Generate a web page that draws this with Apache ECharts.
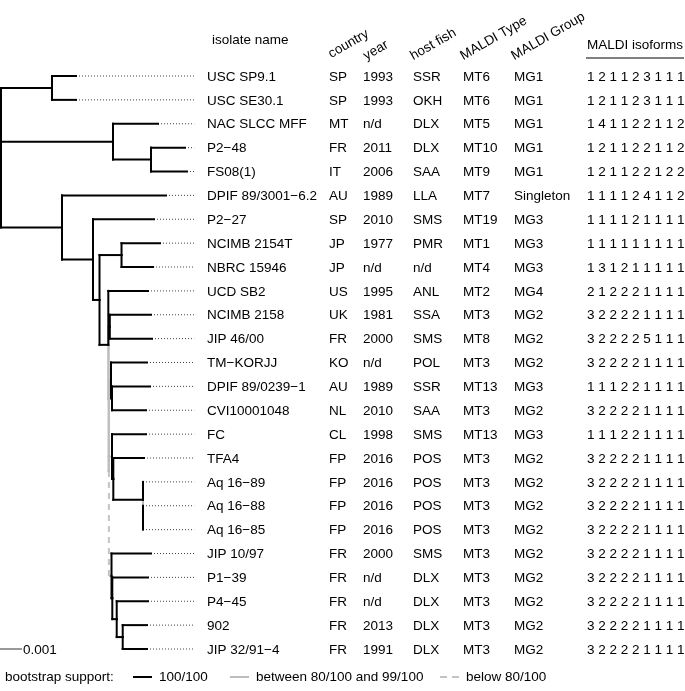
<!DOCTYPE html>
<html><head><meta charset="utf-8">
<script src="https://cdn.jsdelivr.net/npm/echarts@6/dist/echarts.min.js"></script>
<style>html,body{margin:0;padding:0;background:#fff}#c{width:685px;height:691px}</style>
</head><body><div id="c"></div>
<script>
// ---------------- DATA ----------------
const isolateNames = ["USC SP9.1","USC SE30.1","NAC SLCC MFF","P2\u221248","FS08(1)","DPIF 89/3001\u22126.2","P2\u221227","NCIMB 2154T","NBRC 15946","UCD SB2","NCIMB 2158","JIP 46/00","TM\u2212KORJJ","DPIF 89/0239\u22121","CVI10001048","FC","TFA4","Aq 16\u221289","Aq 16\u221288","Aq 16\u221285","JIP 10/97","P1\u221239","P4\u221245","902","JIP 32/91\u22124"];
const countries = ["SP","SP","MT","FR","IT","AU","SP","JP","JP","US","UK","FR","KO","AU","NL","CL","FP","FP","FP","FP","FR","FR","FR","FR","FR"];
const years = ["1993","1993","n/d","2011","2006","1989","2010","1977","n/d","1995","1981","2000","n/d","1989","2010","1998","2016","2016","2016","2016","2000","n/d","n/d","2013","1991"];
const hostFish = ["SSR","OKH","DLX","DLX","SAA","LLA","SMS","PMR","n/d","ANL","SSA","SMS","POL","SSR","SAA","SMS","POS","POS","POS","POS","SMS","DLX","DLX","DLX","DLX"];
const maldiTypes = ["MT6","MT6","MT5","MT10","MT9","MT7","MT19","MT1","MT4","MT2","MT3","MT8","MT3","MT13","MT3","MT13","MT3","MT3","MT3","MT3","MT3","MT3","MT3","MT3","MT3"];
const maldiGroups = ["MG1","MG1","MG1","MG1","MG1","Singleton","MG3","MG3","MG3","MG4","MG2","MG2","MG2","MG3","MG2","MG3","MG2","MG2","MG2","MG2","MG2","MG2","MG2","MG2","MG2"];
const maldiIsoforms = ["1 2 1 1 2 3 1 1 1","1 2 1 1 2 3 1 1 1","1 4 1 1 2 2 1 1 2","1 2 1 1 2 2 1 1 2","1 2 1 1 2 2 1 2 2","1 1 1 1 2 4 1 1 2","1 1 1 1 2 1 1 1 1","1 1 1 1 1 1 1 1 1","1 3 1 2 1 1 1 1 1","2 1 2 2 2 1 1 1 1","3 2 2 2 2 1 1 1 1","3 2 2 2 2 5 1 1 1","3 2 2 2 2 1 1 1 1","1 1 1 2 2 1 1 1 1","3 2 2 2 2 1 1 1 1","1 1 1 2 2 1 1 1 1","3 2 2 2 2 1 1 1 1","3 2 2 2 2 1 1 1 1","3 2 2 2 2 1 1 1 1","3 2 2 2 2 1 1 1 1","3 2 2 2 2 1 1 1 1","3 2 2 2 2 1 1 1 1","3 2 2 2 2 1 1 1 1","3 2 2 2 2 1 1 1 1","3 2 2 2 2 1 1 1 1"];
// Tree (Newick). Tips = row index of isolate; internal label = bootstrap class of branch leading to node
// (none = 100/100, g = 80-99/100, d = below 80/100). Branch lengths in substitutions/site.
const treeNewick = "((0:0.001143,1:0.001143):0.002429,(2:0.002143,(3:0.001619,4:0.001714):0.001810):0.005333,(5:0.004952,(6:0.002905,((7:0.001833,8:0.0015):0.001048,(9:0.00189,((10:0.001962,11:0.00201)g:0.000057,((12:0.001714,(13:0.00181,14:0.001619):0.000048)g:0.0001,(15:0.001619,(16:0.001462,(17:0,(18:0,19:0)g:0):0.001414):0.000062)g:0.000148,(20:0.001881,(21:0.0017,(22:0.00149,(23:0.001157,24:0.001157):0.000286):0.00021):0.000038)d:0.000124)g:0.000014)g:0.000014):0.000419):0.00031):0.001476):0.002905);";
const scaleBarLength = 0.001;
const scaleBarLabel = "0.001";
const columnHeaders = ["isolate name","country","year","host fish","MALDI Type","MALDI Group","MALDI isoforms"];
const supportLegendTitle = "bootstrap support:";
const supportClasses = ["100/100","between 80/100 and 99/100","below 80/100"];

// ---------------- LAYOUT / STYLE ----------------
const FONT = '"Liberation Sans", Arial, Helvetica, sans-serif';
const FS = 13.5;
const xMaxDist = 0.0092;
const pxPerUnit = 21000;
const colX = {name:207, country:329, year:363, host:413, mt:463, mg:514, iso:587};
const rotHeaderPos = [[333,61],[368,63],[415,63],[465,63],[516,63]];

// ---------------- TREE PARSING ----------------
function parseNewick(str){
  const s = str.replace(/\s+/g,'');
  let i = 0;
  function node(){
    const n = {children:[]};
    if (s[i] === '('){
      i++;
      while (true){
        n.children.push(node());
        if (s[i] === ','){ i++; continue; }
        if (s[i] === ')'){ i++; break; }
      }
    }
    let label = '';
    while (i < s.length && !':,);'.includes(s[i])) label += s[i++];
    n.label = label;
    n.len = 0;
    if (s[i] === ':'){
      i++; let num = '';
      while (i < s.length && !',);'.includes(s[i])) num += s[i++];
      n.len = parseFloat(num);
    }
    return n;
  }
  return node();
}
const root = parseNewick(treeNewick);
root.len = 0;
function layout(n, px){
  n.x = px + n.len;
  if (!n.children.length){ n.y = parseInt(n.label,10); n.sup = 'b'; }
  else {
    n.children.forEach(c => layout(c, n.x));
    n.y = n.children.reduce((a,c)=>a+c.y,0)/n.children.length;
    n.sup = n.label || 'b';
  }
}
layout(root, 0);
const segs = {b:[], g:[], d:[]};
const leaders = [];
function collect(n, parent){
  if (parent) segs[n.sup].push([parent.x, n.y, n.x, n.y]);
  if (n.children.length){
    n.children.forEach(c => { segs[c.sup].push([n.x, n.y, n.x, c.y]); collect(c, n); });
  } else {
    leaders.push([n.x, n.y, xMaxDist, n.y]);
  }
}
collect(root, null);

const rows = isolateNames.map((_, i) => [0, i]);

function lineRender(style){
  return function(params, api){
    const p1 = api.coord([api.value(0), api.value(1)]);
    const p2 = api.coord([api.value(2), api.value(3)]);
    return {type:'line', shape:{x1:p1[0], y1:p1[1], x2:p2[0], y2:p2[1]}, style:Object.assign({fill:null}, style)};
  };
}
function txt(x, y, text, extra){
  return Object.assign({type:'text', x:x, y:y, style:{text:text, fill:'#000', fontSize:FS, fontFamily:FONT, align:'left', verticalAlign:'middle'}}, extra||{});
}
function rotTxt(k){
  const p = rotHeaderPos[k];
  return {type:'text', x:p[0], y:p[1], rotation:Math.PI/6,
    style:{text:columnHeaders[k+1], fill:'#000', fontSize:FS, fontFamily:FONT, align:'left', verticalAlign:'bottom'}};
}

const chart = echarts.init(document.getElementById('c'), null, {renderer:'canvas'});
const gridWidth = xMaxDist * pxPerUnit;
const option = {
  animation:false,
  backgroundColor:'#fff',
  grid:{left:1, top:76, width:gridWidth, height:573},
  xAxis:{type:'value', min:0, max:xMaxDist, show:false},
  yAxis:{type:'value', min:0, max:24, inverse:true, show:false},
  legend: supportClasses.map((name, k) => ({
    data:[{name:name,
      icon: k===2 ? 'path://M0,0H7V2H0Z M12,0H19V2H12Z' : 'path://M0,0H19V2H0Z',
      itemStyle:{color: ['#000','#bdbdbd','#c4c4c4'][k]}}],
    left:[133,230,440][k], top:670, padding:0, itemWidth:19, itemHeight:2, itemGap:0,
    selectedMode:false,
    textStyle:{fontSize:FS, fontFamily:FONT, color:'#000', padding:[0,0,0,2]}
  })),
  graphic:[
    txt(212, 40, columnHeaders[0]),
    rotTxt(0), rotTxt(1), rotTxt(2), rotTxt(3), rotTxt(4),
    txt(587, 45, columnHeaders[6]),
    {type:'line', shape:{x1:586, y1:58, x2:684, y2:58}, style:{stroke:'#000', lineWidth:1}},
    txt(5, 677, supportLegendTitle)
  ],
  series:[
    {type:'custom', name:'leaders', data:leaders, encode:{x:[0,2], y:[1,3]}, z:1,
      renderItem: lineRender({stroke:'#444', lineWidth:1, lineDash:[1,2]})},
    {type:'custom', name:supportClasses[2], data:segs.d, encode:{x:[0,2], y:[1,3]}, z:2, itemStyle:{color:'#c4c4c4'},
      renderItem: lineRender({stroke:'#c4c4c4', lineWidth:2, lineDash:[6,5]})},
    {type:'custom', name:supportClasses[1], data:segs.g, encode:{x:[0,2], y:[1,3]}, z:3, itemStyle:{color:'#bdbdbd'},
      renderItem: lineRender({stroke:'#bdbdbd', lineWidth:2, lineCap:'square'})},
    {type:'custom', name:supportClasses[0], data:segs.b, encode:{x:[0,2], y:[1,3]}, z:4, itemStyle:{color:'#000'},
      renderItem: lineRender({stroke:'#000', lineWidth:2, lineCap:'square'})},
    {type:'custom', name:'scale', data:[[0, 24, scaleBarLength, 24]], encode:{x:[0,2], y:[1,3]}, z:5,
      renderItem: function(params, api){
        const p1 = api.coord([api.value(0), api.value(1)]);
        const p2 = api.coord([api.value(2), api.value(3)]);
        return {type:'group', children:[
          {type:'line', shape:{x1:p1[0]-1, y1:p1[1], x2:p2[0], y2:p2[1]}, style:{stroke:'#333', lineWidth:1, fill:null}},
          txt(p2[0]+1, p2[1]+1, scaleBarLabel)
        ]};
      }},
    {type:'custom', name:'table', data:rows, encode:{x:0, y:1}, z:5,
      renderItem: function(params, api){
        const i = params.dataIndex;
        const y = api.coord([0, api.value(1)])[1] + 1;
        return {type:'group', children:[
          txt(colX.name, y, isolateNames[i]),
          txt(colX.country, y, countries[i]),
          txt(colX.year, y, years[i]),
          txt(colX.host, y, hostFish[i]),
          txt(colX.mt, y, maldiTypes[i]),
          txt(colX.mg, y, maldiGroups[i]),
          txt(colX.iso, y, maldiIsoforms[i])
        ]};
      }}
  ]
};
chart.setOption(option);
</script>
</body></html>
